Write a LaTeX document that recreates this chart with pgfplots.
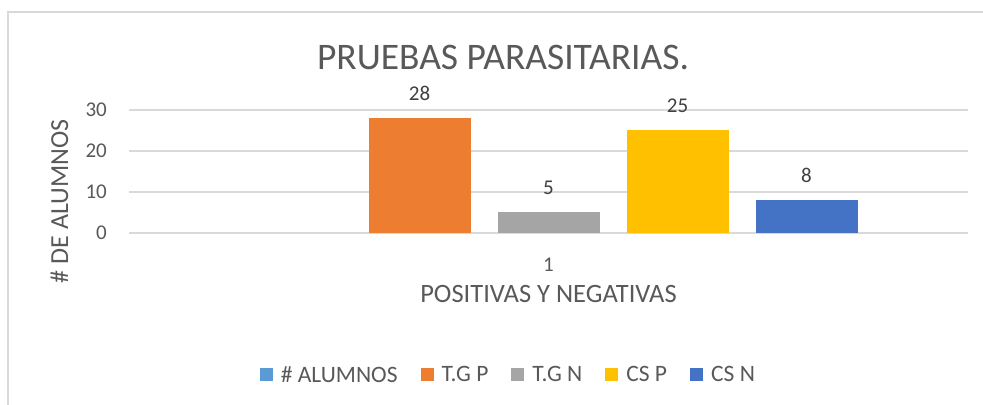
\documentclass[border=0pt]{standalone}
\usepackage{pgfplots}
\pgfplotsset{compat=1.18}
\usepackage{fontspec}
\setmainfont{Carlito}
\definecolor{txt}{HTML}{595959}
\definecolor{lbl}{HTML}{404040}
\definecolor{gridc}{HTML}{D9D9D9}
\definecolor{c1}{HTML}{5B9BD5}
\definecolor{c2}{HTML}{ED7D31}
\definecolor{c3}{HTML}{A5A5A5}
\definecolor{c4}{HTML}{FFC000}
\definecolor{c5}{HTML}{4472C4}
\begin{document}
\begin{tikzpicture}
\useasboundingbox (0bp,0bp) rectangle (983bp,405bp);
\fill[white] (0bp,0bp) rectangle (983bp,405bp);
\draw[gridc, line width=1.5bp] (8bp,-5bp) -- (8bp,393bp) -- (995bp,393bp);
\begin{axis}[
  at={(129bp,172bp)}, anchor=south west, scale only axis,
  width=839bp, height=123bp,
  xmin=0.5, xmax=1.5, ymin=0, ymax=30,
  xtick={1}, ytick={0,10,20,30},
  axis line style={draw=none}, major tick length=0pt,
  ymajorgrids, grid style={gridc, line width=1.2bp},
  ybar, bar width=102bp,
  tick label style={font=\fontsize{21bp}{25bp}\selectfont, text=txt, inner sep=0pt},
  /pgf/number format/assume math mode=true,
  yticklabel style={anchor=east, xshift=-22bp},
  xticklabel style={anchor=base, yshift=-39bp},
  every node near coord/.append style={anchor=base, inner sep=0pt, yshift=17.5bp, font=\fontsize{21bp}{25bp}\selectfont, text=lbl},
  legend columns=5,
  legend style={at={(0.451,-1.154)}, anchor=center, draw=none, fill=none,
    font=\fontsize{23.5bp}{27bp}\selectfont, text=txt,
    nodes={inner sep=0pt},
    /tikz/every odd column/.append style={column sep=8bp},
    /tikz/every even column/.append style={column sep=23bp}},
  legend image code/.code={\fill[#1] (0bp,-6.5bp) rectangle (13bp,6.5bp);},
]
% "# ALUMNOS" series has no visible value in the reference (blank cell)
\addlegendimage{fill=c1, draw=none}
\addlegendentry{\# ALUMNOS}
\addplot[fill=c2, draw=none, bar shift=-129bp, nodes near coords] coordinates {(1,28)};
\addlegendentry{T.G P}
\addplot[fill=c3, draw=none, bar shift=0bp, nodes near coords] coordinates {(1,5)};
\addlegendentry{T.G N}
\addplot[fill=c4, draw=none, bar shift=129bp, nodes near coords] coordinates {(1,25)};
\addlegendentry{CS P}
\addplot[fill=c5, draw=none, bar shift=258bp, nodes near coords] coordinates {(1,8)};
\addlegendentry{CS N}
\end{axis}
\node[anchor=base, font=\fontsize{37.5bp}{42bp}\selectfont, text=txt, inner sep=0pt] at (503bp,335.7bp) {PRUEBAS PARASITARIAS.};
\node[rotate=90, anchor=base, font=\fontsize{26bp}{30bp}\selectfont, text=txt, inner sep=0pt] at (68bp,203.5bp) {\# DE ALUMNOS};
\node[anchor=base, font=\fontsize{26.5bp}{30bp}\selectfont, text=txt, inner sep=0pt] at (548.5bp,102bp) {POSITIVAS Y NEGATIVAS};
\end{tikzpicture}
\end{document}
